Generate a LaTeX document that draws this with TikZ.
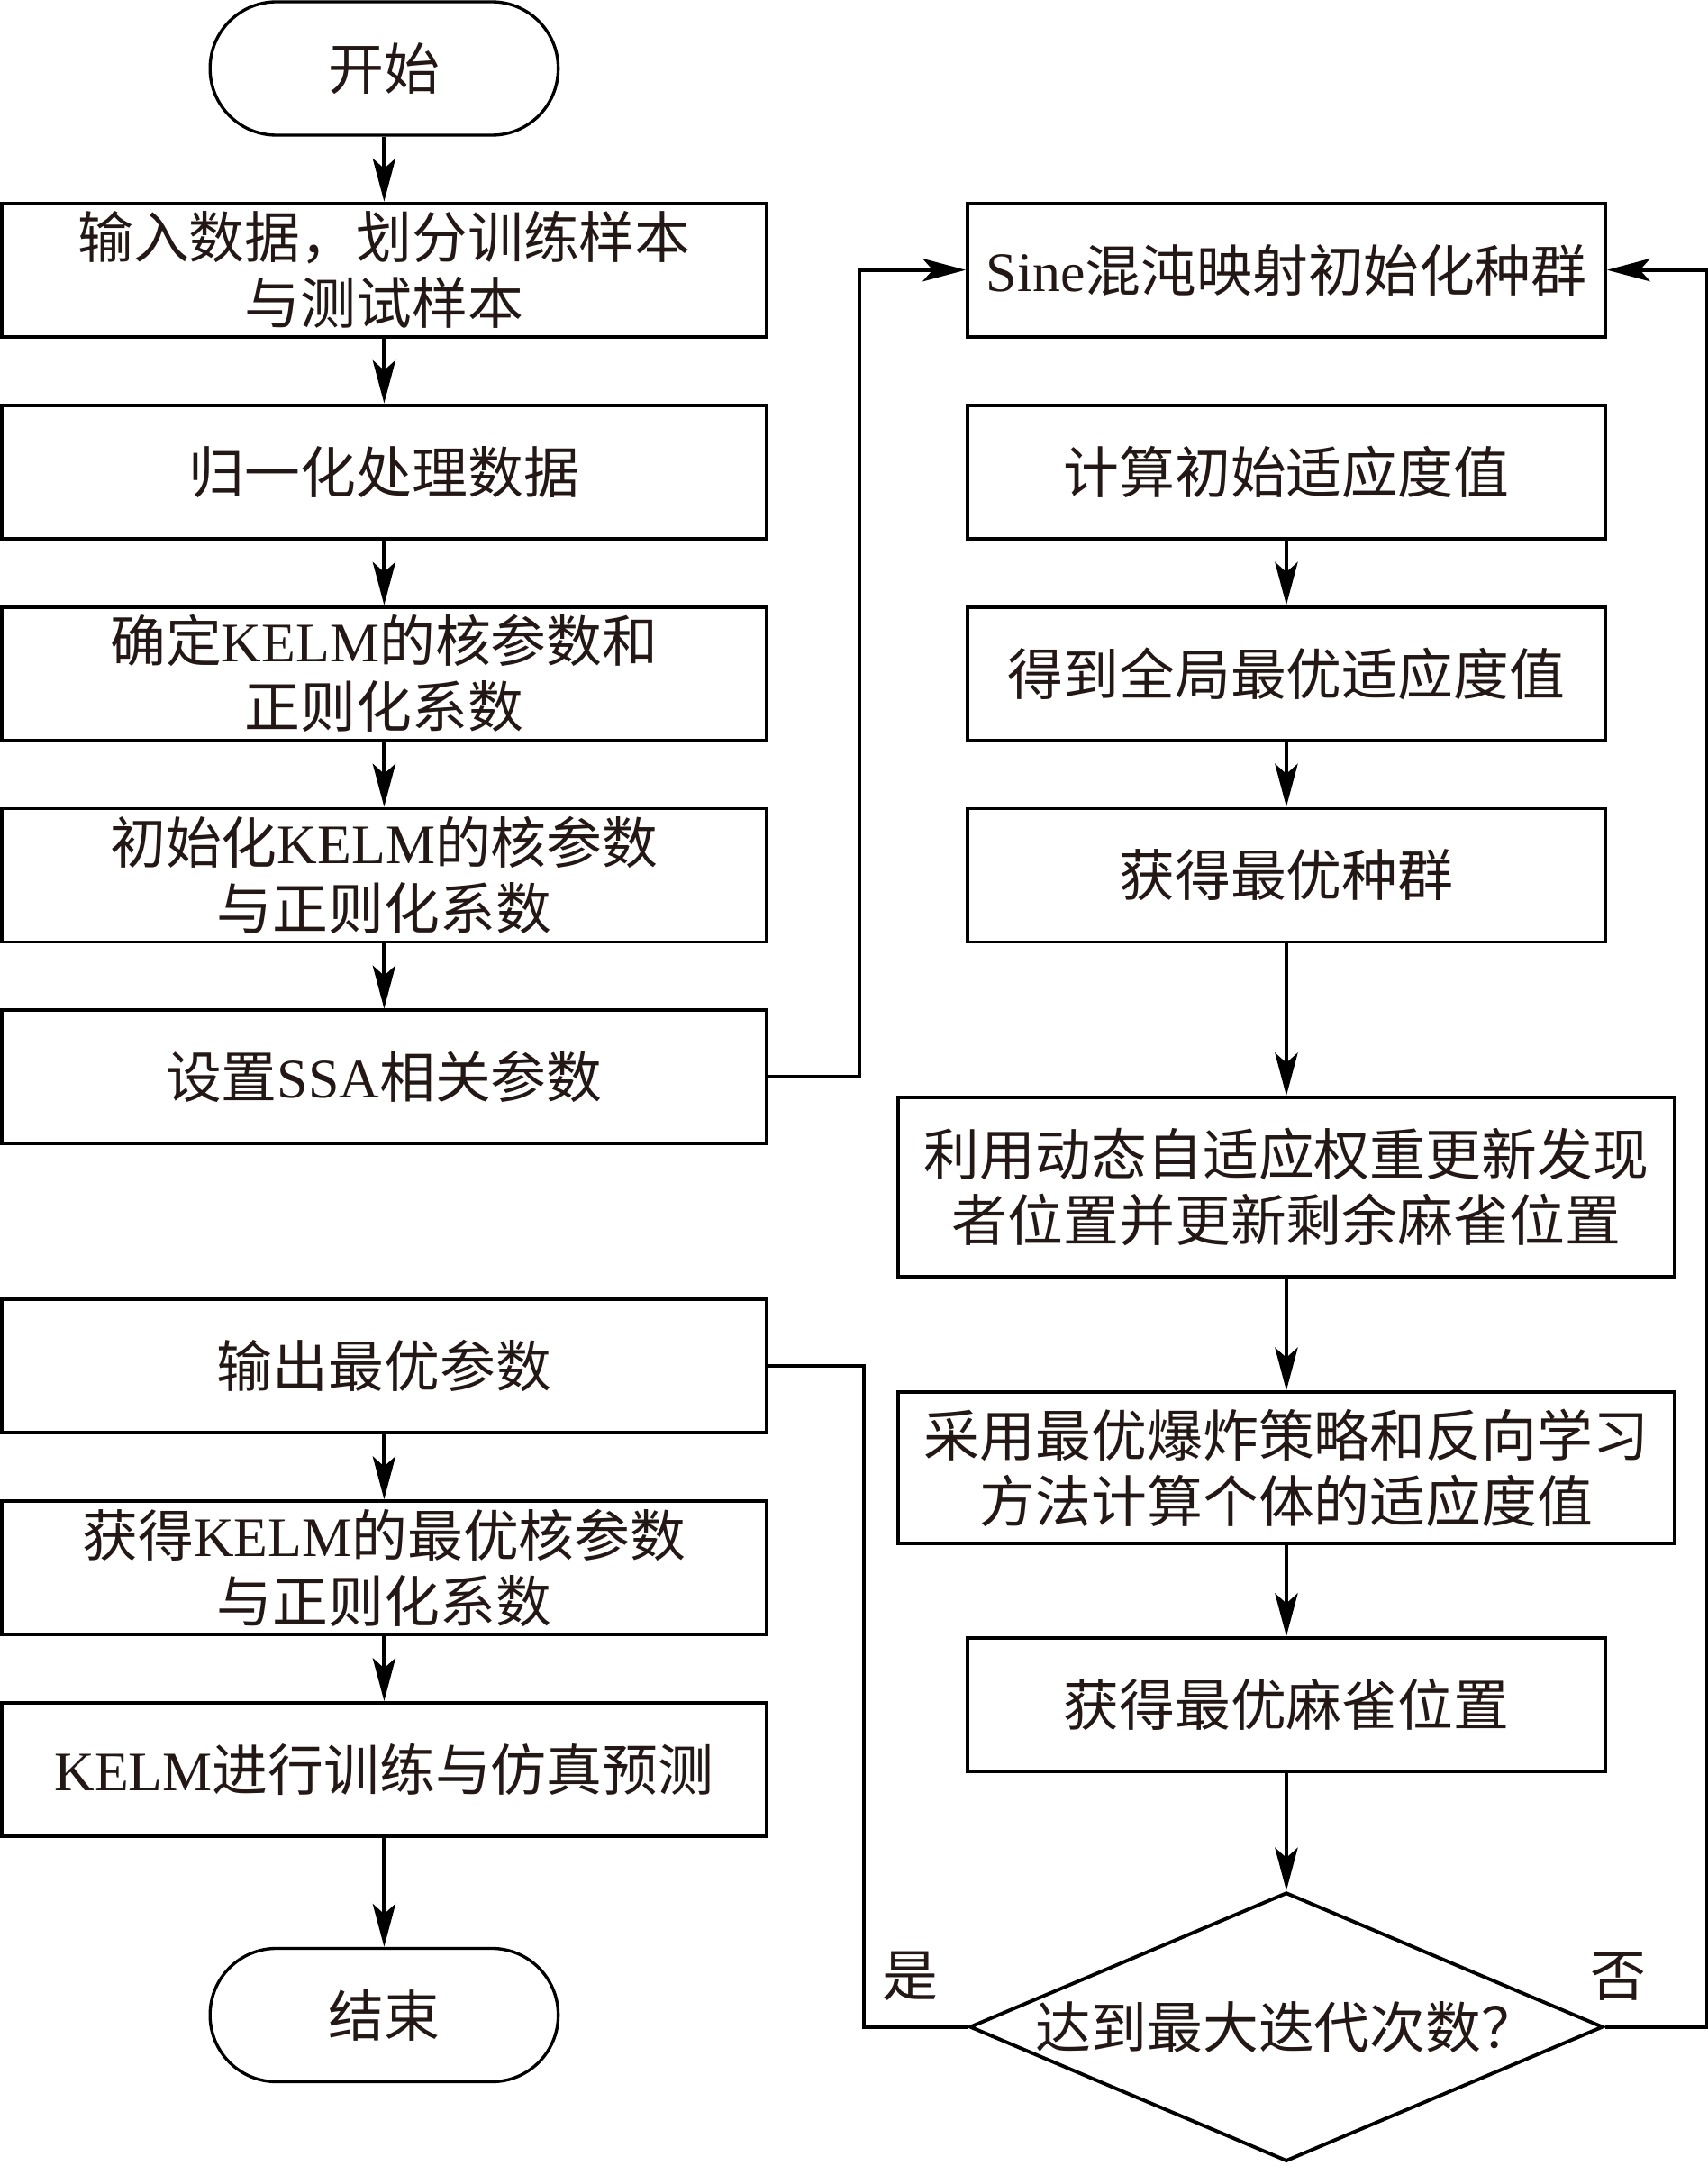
\documentclass[tikz,border=0pt]{standalone}
\usepackage{fontspec}
\setmainfont{Noto Sans CJK SC}
\newfontfamily\lat{Liberation Serif}
\usepackage{xcolor}
\usepackage{tikz}
\usetikzlibrary{shapes.geometric, arrows.meta, positioning}

\definecolor{ink}{HTML}{231815}
\newcommand{\en}[1]{{\lat #1}}

\begin{document}
\begin{tikzpicture}[
    node distance=0.9cm,
    font=\fontsize{22pt}{26pt}\selectfont,
    box/.style={rectangle, draw=black, line width=1.4pt, minimum width=10.61cm, minimum height=1.85cm, align=center, text=ink, inner sep=0pt},
    rbox/.style={box, minimum width=8.85cm},
    wbox/.style={box, minimum width=10.78cm},
    term/.style={rectangle, rounded corners=0.92cm, draw=black, line width=1.2pt, minimum width=4.83cm, minimum height=1.85cm, text=ink},
    decision/.style={diamond, draw=black, line width=1.4pt, aspect=2.36, minimum width=8.79cm, minimum height=3.73cm, inner sep=0pt, text=ink},
    arrow/.style={-{Stealth[length=17pt, width=9pt, inset=4pt]}, line width=1.4pt},
    link/.style={line width=1.4pt},
    lbl/.style={text=ink}
]
\useasboundingbox (0,0) rectangle (23.6875,-30.05);

% left column
\node[term] (start) at (5.33,-0.95) {开始};
\node[box, below=of start] (input) {输入数据，划分训练样本\\与测试样本};
\node[box, below=of input] (norm) {归一化处理数据};
\node[box, below=of norm] (kernel) {确定\en{KELM}的核参数和\\正则化系数};
\node[box, below=of kernel] (init) {初始化\en{KELM}的核参数\\与正则化系数};
\node[box, below=of init] (ssa) {设置\en{SSA}相关参数};
\node[box, below=2.11cm of ssa] (output) {输出最优参数};
\node[box, below=of output] (best) {获得\en{KELM}的最优核参数\\与正则化系数};
\node[box, below=of best] (train) {\en{KELM}进行训练与仿真预测};
\node[term, below=1.51cm of train] (stop) {结束};

% right column
\node[rbox, right=2.74cm of input] (sine) {\en{Sine}混沌映射初始化种群};
\node[rbox, below=of sine] (fit) {计算初始适应度值};
\node[rbox, below=of fit] (gbest) {得到全局最优适应度值};
\node[rbox, below=of gbest] (pop) {获得最优种群};
\node[wbox, minimum height=2.49cm, below=2.11cm of pop] (update) {利用动态自适应权重更新发现\\者位置并更新剩余麻雀位置};
\node[wbox, minimum height=2.1cm, below=1.55cm of update] (explode) {采用最优爆炸策略和反向学习\\方法计算个体的适应度值};
\node[rbox, below=1.26cm of explode] (sparrow) {获得最优麻雀位置};
\node[decision, below=1.63cm of sparrow] (maxit) {达到最大迭代次数？};

\node[lbl] (yes) at ([xshift=-0.8cm, yshift=0.7cm]maxit.west) {是};
\node[lbl] (no) at ([xshift=0.19cm, yshift=0.7cm]maxit.east) {否};

\draw[arrow] (start) -- (input);
\draw[arrow] (input) -- (norm);
\draw[arrow] (norm) -- (kernel);
\draw[arrow] (kernel) -- (init);
\draw[arrow] (init) -- (ssa);
\draw[arrow] (output) -- (best);
\draw[arrow] (best) -- (train);
\draw[arrow] (train) -- (stop);

\draw[arrow] (ssa.east) -- ++(1.26,0) |- (sine.west);
\draw[arrow] (fit) -- (gbest);
\draw[arrow] (gbest) -- (pop);
\draw[arrow] (pop) -- (update);
\draw[arrow] (update) -- (explode);
\draw[arrow] (explode) -- (sparrow);
\draw[arrow] (sparrow) -- (maxit);

\draw[link] (maxit.west) -- ++(-1.44,0) |- (output.east);
\draw[arrow] (maxit.east) -- ++(1.42,0) |- (sine.east);

\end{tikzpicture}
\end{document}
